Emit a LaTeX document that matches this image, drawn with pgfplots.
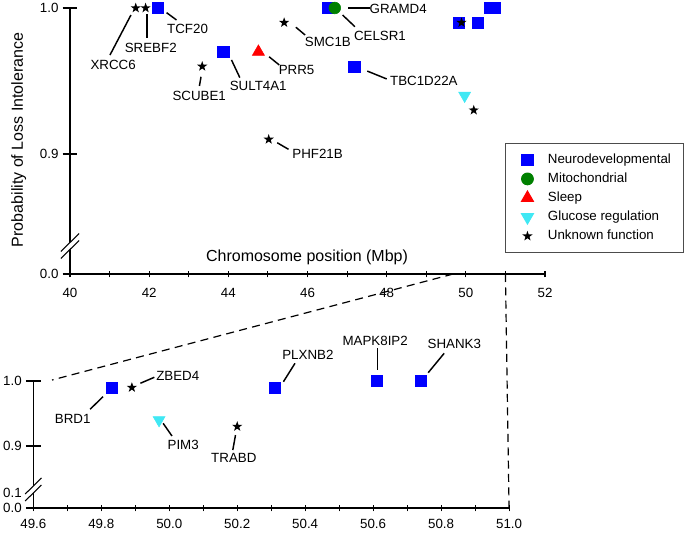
\documentclass[border=0pt]{standalone}
\usepackage{fontspec}
\setmainfont{Liberation Sans}
\usepackage{pgfplots}
\pgfplotsset{compat=1.18}

\definecolor{neuro}{RGB}{0,0,255}
\definecolor{mito}{RGB}{0,128,0}
\definecolor{sleep}{RGB}{255,0,0}
\definecolor{gluc}{RGB}{64,232,244}

% filled five-point star
\pgfdeclareplotmark{fstar}{%
  \pgfpathmoveto{\pgfpointpolar{90}{\pgfplotmarksize}}%
  \pgfpathlineto{\pgfpointpolar{126}{0.4\pgfplotmarksize}}%
  \pgfpathlineto{\pgfpointpolar{162}{\pgfplotmarksize}}%
  \pgfpathlineto{\pgfpointpolar{198}{0.4\pgfplotmarksize}}%
  \pgfpathlineto{\pgfpointpolar{234}{\pgfplotmarksize}}%
  \pgfpathlineto{\pgfpointpolar{270}{0.4\pgfplotmarksize}}%
  \pgfpathlineto{\pgfpointpolar{306}{\pgfplotmarksize}}%
  \pgfpathlineto{\pgfpointpolar{342}{0.4\pgfplotmarksize}}%
  \pgfpathlineto{\pgfpointpolar{18}{\pgfplotmarksize}}%
  \pgfpathlineto{\pgfpointpolar{54}{0.4\pgfplotmarksize}}%
  \pgfpathclose\pgfusepathqfill}

\tikzset{
  lab/.style={inner sep=0pt, font=\fontsize{10}{12}\selectfont},
  ld/.style={line width=1.1pt},
}

\pgfplotsset{
  common/.style={
    scale only axis, clip=false,
    axis x line*=bottom, axis y line*=left,
    tick align=center,
    axis line style={line width=0.8pt},
    every tick/.style={black, line width=0.8pt},
    xtick style={/pgfplots/major tick length=5pt},
    ytick style={/pgfplots/major tick length=11pt},
    minor tick length=5pt,
    /pgf/number format/assume math mode=true,
    tick label style={font=\fontsize{10}{12}\selectfont},
    yticklabel style={xshift=-3pt},
  },
  neuro/.style={only marks, mark=square*, mark size=4.2pt, mark options={fill=neuro, draw=neuro}},
  mito/.style={only marks, mark=*, mark size=4.4pt, mark options={fill=mito, draw=mito}},
  sleep/.style={only marks, mark=triangle*, mark size=5.2pt, mark options={fill=sleep, draw=sleep}},
  gluc/.style={only marks, mark=triangle*, mark size=5.2pt, mark options={fill=gluc, draw=gluc, rotate=180}},
  unk/.style={only marks, mark=fstar, mark size=4pt, mark options={fill=black}},
}

\begin{document}
\begin{tikzpicture}[font=\fontsize{10}{12}\selectfont]
\useasboundingbox (0,0) rectangle (513.75pt,399pt);

% ---- upper panel: 40-52 Mbp
\begin{axis}[common,
  at={(52.5pt,193.5pt)}, anchor=south west,
  width=356.25pt, height=199.5pt,
  xmin=40, xmax=52, ymin=0.8178, ymax=1.0,
  xtick={40,42,...,52}, minor xtick={41,43,...,51},
  xticklabel style={yshift=-5pt},
  ytick={0.8178,0.9,1.0}, yticklabels={0.0,0.9,1.0},
  xlabel={Chromosome position (Mbp)},
  xlabel style={at={(axis description cs:0.499,0.064)}, anchor=center, font=\fontsize{12}{14}\selectfont},
  ylabel={Probability of Loss Intolerance},
  ylabel style={at={(axis description cs:-0.108,0.504)}, anchor=center, font=\fontsize{12}{14}\selectfont},
  legend style={at={(0.9158,0.4925)}, anchor=north west, draw=black!70, line width=0.8pt,
    inner xsep=7.5pt, inner ysep=5.5pt, row sep=0.8pt,
    nodes={inner sep=2pt, text height=7.5pt, text depth=2pt},
    font=\fontsize{10}{12}\selectfont},
  legend cell align=left,
  legend image code/.code={\draw[#1] plot coordinates {(0.3cm,0cm)}; \path (0pt,0pt) (21.5pt,0pt);},
]
\addplot[neuro] coordinates {(42.22,1.0) (43.87,0.97) (46.51,1.0) (47.18,0.96)
  (49.83,0.99) (50.31,0.99) (50.61,1.0) (50.74,1.0)};
\addlegendentry{Neurodevelopmental}
\addplot[mito] coordinates {(46.69,1.0)};
\addlegendentry{Mitochondrial}
\addplot[sleep] coordinates {(44.76,0.97)};
\addlegendentry{Sleep}
\addplot[gluc] coordinates {(49.97,0.94)};
\addlegendentry{Glucose regulation}
\addplot[unk] coordinates {(41.66,1.0) (41.91,1.0) (43.34,0.96) (45.41,0.99)
  (45.02,0.91) (49.89,0.99) (50.2,0.93)};
\addlegendentry{Unknown function}

\node[lab] at (41.09,0.961) {XRCC6};   \draw[ld] (41.01,0.9678) -- (41.54,0.9952);
\node[lab] at (42.04,0.9728) {SREBF2}; \draw[ld] (41.94,0.9795) -- (41.94,0.9959);
\node[lab] at (42.97,0.9854) {TCF20};  \draw[ld] (42.44,0.9968) -- (42.69,0.9918);
\node[lab] at (44.755,0.9468) {SULT4A1}; \draw[ld] (44.08,0.9644) -- (44.29,0.9523);
\node[lab] at (43.265,0.940) {SCUBE1}; \draw[ld] (43.31,0.9529) -- (43.27,0.9466);
\node[lab] at (45.725,0.9575) {PRR5};  \draw[ld] (45.03,0.9666) -- (45.285,0.961);
\node[lab] at (46.515,0.9765) {SMC1B}; \draw[ld] (45.707,0.9868) -- (45.94,0.9815);
\node[lab] at (46.255,0.8998) {PHF21B}; \draw[ld] (45.235,0.9077) -- (45.52,0.9032);
\node[lab] at (48.29,0.9993) {GRAMD4}; \draw[ld] (47.03,1.0) -- (47.58,1.0);
\node[lab] at (47.83,0.9808) {CELSR1}; \draw[ld] (46.886,0.9952) -- (47.197,0.9872);
\node[lab] at (48.94,0.95) {TBC1D22A}; \draw[ld] (47.51,0.9568) -- (48.0,0.9514);

% axis break
\fill[white] (39.77,0.83322) -- (40.23,0.84554) -- (40.23,0.84075) -- (39.77,0.82843) -- cycle;
\draw[line width=0.8pt] (39.77,0.83322) -- (40.23,0.84554);
\draw[line width=0.8pt] (39.77,0.82843) -- (40.23,0.84075);

\coordinate (zA) at (49.68,0.8178);
\coordinate (zC) at (51.0,0.8178);
\end{axis}

% ---- lower panel: zoom 49.6-51.0 Mbp
\begin{axis}[common,
  at={(25pt,18pt)}, anchor=south west,
  width=356.8pt, height=95.25pt,
  xmin=49.6, xmax=51.0, ymin=0.8046, ymax=1.0,
  xtick={49.6,49.8,50.0,50.2,50.4,50.6,50.8,51.0},
  minor xtick={49.7,49.9,50.1,50.3,50.5,50.7,50.9},
  xticklabel style={yshift=-2.5pt, /pgf/number format/.cd, fixed, fixed zerofill, precision=1},
  ytick={0.8046,0.9,1.0}, yticklabels={0.0,0.9,1.0},
  extra y ticks={0.8277}, extra y tick labels={0.1},
  extra y tick style={ytick style={/pgfplots/major tick length=0pt}},
]
\addplot[neuro] coordinates {(49.83,0.99) (50.31,0.99) (50.61,1.0) (50.74,1.0)};
\addplot[gluc] coordinates {(49.97,0.94)};
\addplot[unk] coordinates {(49.89,0.99) (50.2,0.93)};

\node[lab] at (49.716,0.9415) {BRD1};  \draw[ld] (49.767,0.9565) -- (49.805,0.9758);
\node[lab] at (50.025,1.0077) {ZBED4}; \draw[ld] (49.915,0.9965) -- (49.956,1.0057);
\node[lab] at (50.041,0.9015) {PIM3};  \draw[ld] (49.982,0.9349) -- (50.008,0.9154);
\node[lab] at (50.19,0.881) {TRABD};   \draw[ld] (50.195,0.9169) -- (50.187,0.8938);
\node[lab] at (50.408,1.04) {PLXNB2};  \draw[ld] (50.336,0.9989) -- (50.37,1.0272);
\node[lab] at (50.606,1.062) {MAPK8IP2}; \draw[ld] (50.613,1.0503) -- (50.613,1.0169);
\node[lab] at (50.839,1.057) {SHANK3};  \draw[ld] (50.762,1.0128) -- (50.809,1.0426);

% axis break
\fill[white] (49.576,0.8261) -- (49.624,0.8508) -- (49.624,0.8400) -- (49.576,0.8154) -- cycle;
\draw[line width=0.8pt] (49.576,0.8261) -- (49.624,0.8508);
\draw[line width=0.8pt] (49.576,0.8154) -- (49.624,0.8400);

\coordinate (zB) at (49.655,1.0015);
\coordinate (zD) at (51.0,0.8046);
\end{axis}

\draw[line width=0.9pt, dash pattern=on 6pt off 4pt] (zA) -- (zB);
\draw[line width=0.9pt, dash pattern=on 6pt off 4pt] (zC) -- (zD);
\end{tikzpicture}
\end{document}
